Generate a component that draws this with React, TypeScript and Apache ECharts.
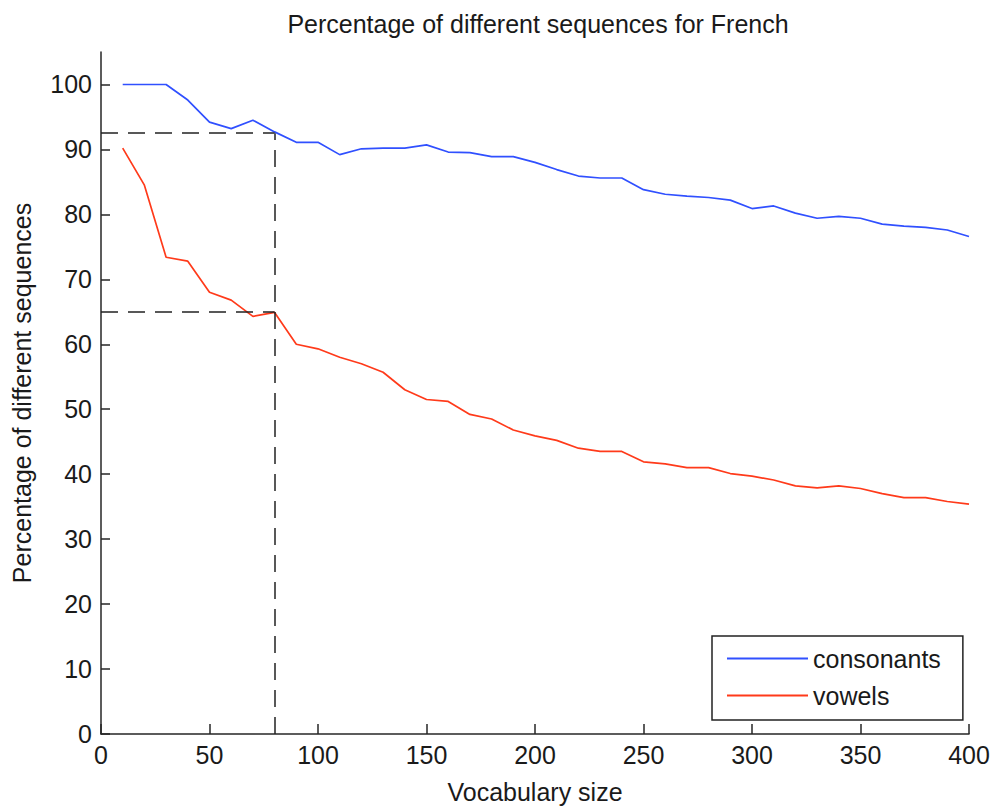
import React, { useEffect, useRef } from "react";
import * as echarts from "echarts";

const vocabSizes = [10, 20, 30, 40, 50, 60, 70, 80, 90, 100, 110, 120, 130, 140, 150, 160, 170, 180, 190, 200, 210, 220, 230, 240, 250, 260, 270, 280, 290, 300, 310, 320, 330, 340, 350, 360, 370, 380, 390, 400];
const consonants = [100, 100, 100, 97.6, 94.2, 93.2, 94.5, 92.7, 91.1, 91.1, 89.2, 90.1, 90.2, 90.2, 90.7, 89.6, 89.5, 88.9, 88.9, 88.0, 86.9, 85.9, 85.6, 85.6, 83.8, 83.1, 82.8, 82.6, 82.2, 80.9, 81.3, 80.2, 79.4, 79.7, 79.4, 78.5, 78.2, 78.0, 77.6, 76.6];
const vowels = [90.2, 84.5, 73.4, 72.8, 68.0, 66.8, 64.3, 64.9, 60.0, 59.3, 58.0, 57.0, 55.7, 53.0, 51.5, 51.2, 49.2, 48.5, 46.8, 45.9, 45.2, 44.0, 43.5, 43.5, 41.9, 41.6, 41.0, 41.0, 40.1, 39.7, 39.1, 38.2, 37.9, 38.2, 37.8, 37.0, 36.4, 36.4, 35.8, 35.4];
const yTicks = [0, 10, 20, 30, 40, 50, 60, 70, 80, 90, 100];
const refVocab = 80;
const refConsonant = 92.5;
const refVowel = 65;

const FONT = "'Liberation Sans', Arial, Helvetica, sans-serif";
const TXT = "#1a1a1a";
const AX = "#262626";

export default function App() {
  const ref = useRef<HTMLDivElement>(null);
  useEffect(() => {
    if (!ref.current) return;
    const chart = echarts.init(ref.current, null, { renderer: "svg" });
    const dash = { color: "#222", width: 1.5, type: [17, 10] as any };
    chart.setOption({
      animation: false,
      backgroundColor: "#fff",
      textStyle: { fontFamily: FONT },
      title: {
        text: "Percentage of different sequences for French",
        left: 533,
        top: 6,
        textAlign: "center",
        textStyle: { fontFamily: FONT, fontSize: 25, fontWeight: "normal", color: TXT },
      },
      grid: { left: 101, right: 24, top: 52, bottom: 72 },
      legend: {
        left: 712,
        top: 636,
        orient: "vertical",
        backgroundColor: "#fff",
        borderColor: "#222",
        borderWidth: 1.5,
        borderRadius: 0,
        padding: [10, 22, 12, 15],
        itemGap: 12,
        itemWidth: 81,
        itemHeight: 2,
        icon: "rect",
        textStyle: { fontFamily: FONT, fontSize: 25, color: TXT },
        data: ["consonants", "vowels"],
      },
      xAxis: {
        type: "value",
        min: 0,
        max: 400,
        interval: 50,
        name: "Vocabulary size",
        nameLocation: "middle",
        nameGap: 45,
        nameTextStyle: { fontFamily: FONT, fontSize: 25, color: TXT },
        axisLine: { show: true, lineStyle: { color: AX, width: 1.5 } },
        axisTick: { show: true, inside: true, length: 10, lineStyle: { color: AX, width: 1.5 } },
        axisLabel: { margin: 8, fontFamily: FONT, fontSize: 25, color: TXT },
        splitLine: { show: false },
      },
      yAxis: {
        type: "value",
        min: 0,
        max: 105,
        name: "Percentage of different sequences",
        nameLocation: "middle",
        nameGap: 67,
        nameTextStyle: { fontFamily: FONT, fontSize: 25, color: TXT },
        axisLine: { show: true, lineStyle: { color: AX, width: 1.5 } },
        axisTick: { show: true, inside: true, length: 9, customValues: yTicks, lineStyle: { color: AX, width: 1.5 } },
        axisLabel: { margin: 9, fontFamily: FONT, fontSize: 25, color: TXT, customValues: yTicks },
        splitLine: { show: false },
      },
      series: [
        {
          name: "consonants",
          type: "line",
          data: vocabSizes.map((x, i) => [x, consonants[i]]),
          showSymbol: false,
          symbol: "none",
          color: "#3050ff",
          lineStyle: { color: "#3050ff", width: 1.7 },
          z: 3,
          markLine: {
            silent: true,
            symbol: "none",
            label: { show: false },
            lineStyle: dash,
            data: [
              [{ coord: [0, refConsonant] }, { coord: [refVocab, refConsonant] }],
              [{ coord: [refVocab, 0] }, { coord: [refVocab, refConsonant] }],
              [{ coord: [0, refVowel] }, { coord: [refVocab, refVowel] }],
            ],
          },
        },
        {
          name: "vowels",
          type: "line",
          data: vocabSizes.map((x, i) => [x, vowels[i]]),
          showSymbol: false,
          symbol: "none",
          color: "#ff3a1a",
          lineStyle: { color: "#ff3a1a", width: 1.7 },
          z: 3,
        },
      ],
    });
    return () => chart.dispose();
  }, []);
  return (
    <div
      ref={ref}
      style={{ position: "fixed", left: 0, top: 0, width: 993, height: 809, background: "#fff" }}
    />
  );
}
